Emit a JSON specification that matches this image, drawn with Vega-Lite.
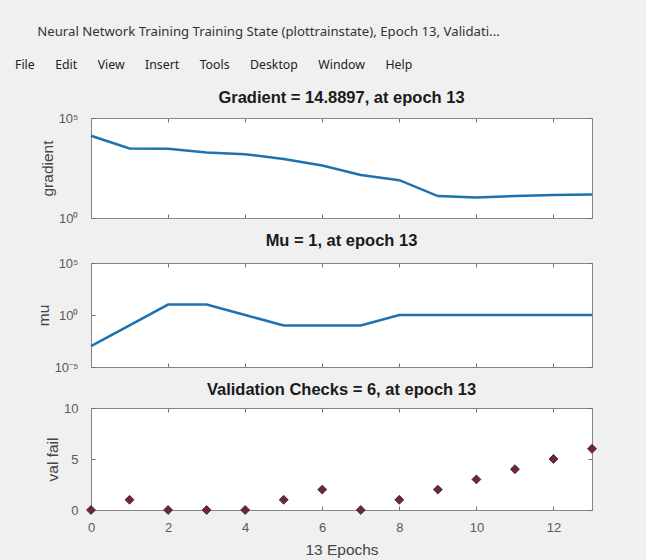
{
  "$schema": "https://vega.github.io/schema/vega-lite/v6.json",
  "background": "#f0f0f0",
  "padding": {"left": 15, "top": 24, "right": 47, "bottom": 4},
  "title": {
    "text": "\u2800\u2800\u2009Neural Network Training Training State (plottrainstate), Epoch 13, Validati...",
    "subtitle": "File\u2003\u2002\u2009Edit\u2003\u2002\u2009View\u2003\u2002\u2009Insert\u2003\u2002\u2009Tools\u2003\u2002\u2009Desktop\u2003\u2002\u2009Window\u2003\u2002\u2009Help",
    "anchor": "start",
    "frame": "group",
    "font": "Noto Sans",
    "fontSize": 13.2,
    "fontWeight": "normal",
    "color": "#333333",
    "subtitleFont": "Noto Sans",
    "subtitleFontSize": 12.3,
    "subtitleColor": "#222222",
    "subtitlePadding": 20,
    "offset": 17,
    "dx": -76
  },
  "datasets": {
    "train": [
      {"epoch": 0, "gradient": 12900, "mu": 0.001, "val_fail": 0},
      {"epoch": 1, "gradient": 3000, "mu": 0.1, "val_fail": 1},
      {"epoch": 2, "gradient": 2900, "mu": 10, "val_fail": 0},
      {"epoch": 3, "gradient": 1900, "mu": 10, "val_fail": 0},
      {"epoch": 4, "gradient": 1550, "mu": 1, "val_fail": 0},
      {"epoch": 5, "gradient": 890, "mu": 0.1, "val_fail": 1},
      {"epoch": 6, "gradient": 420, "mu": 0.1, "val_fail": 2},
      {"epoch": 7, "gradient": 140, "mu": 0.1, "val_fail": 0},
      {"epoch": 8, "gradient": 78, "mu": 1, "val_fail": 1},
      {"epoch": 9, "gradient": 12.5, "mu": 1, "val_fail": 2},
      {"epoch": 10, "gradient": 10.5, "mu": 1, "val_fail": 3},
      {"epoch": 11, "gradient": 12.5, "mu": 1, "val_fail": 4},
      {"epoch": 12, "gradient": 14, "mu": 1, "val_fail": 5},
      {"epoch": 13, "gradient": 14.8897, "mu": 1, "val_fail": 6}
    ]
  },
  "spacing": 6,
  "vconcat": [
    {
      "width": 501,
      "height": 100,
      "title": {"text": "Gradient = 14.8897, at epoch 13", "offset": 6},
      "data": {"name": "train"},
      "layer": [
        {
          "mark": {"type": "line", "color": "#1f72b0", "strokeWidth": 2.5},
          "encoding": {
            "x": {"field": "epoch", "type": "quantitative", "scale": {"domain": [0, 13], "nice": false, "zero": false},
                  "axis": {"labels": false, "title": null, "values": [0, 2, 4, 6, 8, 10, 12]}},
            "y": {"field": "gradient", "type": "quantitative", "scale": {"type": "log", "domain": [1, 100000], "nice": false},
                  "axis": {"title": "gradient", "values": [1, 100000], "labelExpr": "datum.value == 1 ? '10⁰' : '10⁵'"}}
          }
        },
        {
          "mark": {"type": "point", "opacity": 0},
          "encoding": {
            "x": {"field": "epoch", "type": "quantitative", "axis": {"orient": "top", "labels": false, "title": null, "values": [0, 2, 4, 6, 8, 10, 12]}},
            "y": {"field": "gradient", "type": "quantitative", "axis": {"orient": "right", "labels": false, "title": null, "values": [1, 100000]}}
          }
        }
      ],
      "resolve": {"axis": {"x": "independent", "y": "independent"}}
    },
    {
      "width": 501,
      "height": 104,
      "title": {"text": "Mu = 1, at epoch 13", "offset": 8},
      "data": {"name": "train"},
      "layer": [
        {
          "mark": {"type": "line", "color": "#1f72b0", "strokeWidth": 2.5},
          "encoding": {
            "x": {"field": "epoch", "type": "quantitative", "scale": {"domain": [0, 13], "nice": false, "zero": false},
                  "axis": {"labels": false, "title": null, "values": [0, 2, 4, 6, 8, 10, 12]}},
            "y": {"field": "mu", "type": "quantitative", "scale": {"type": "log", "domain": [0.00001, 100000], "nice": false},
                  "axis": {"title": "mu", "values": [0.00001, 1, 100000], "labelExpr": "datum.value < 0.5 ? '10⁻⁵' : (datum.value < 2 ? '10⁰' : '10⁵')"}}
          }
        },
        {
          "mark": {"type": "point", "opacity": 0},
          "encoding": {
            "x": {"field": "epoch", "type": "quantitative", "axis": {"orient": "top", "labels": false, "title": null, "values": [0, 2, 4, 6, 8, 10, 12]}},
            "y": {"field": "mu", "type": "quantitative", "axis": {"orient": "right", "labels": false, "title": null, "values": [0.00001, 1, 100000]}}
          }
        }
      ],
      "resolve": {"axis": {"x": "independent", "y": "independent"}}
    },
    {
      "width": 501,
      "height": 102,
      "title": {"text": "Validation Checks = 6, at epoch 13", "offset": 4},
      "data": {"name": "train"},
      "layer": [
        {
          "mark": {"type": "point", "shape": "diamond", "filled": true, "color": "#70263a", "size": 80, "opacity": 1, "stroke": "#3a1a22", "strokeWidth": 0.8},
          "encoding": {
            "x": {"field": "epoch", "type": "quantitative", "scale": {"domain": [0, 13], "nice": false, "zero": false},
                  "axis": {"title": "13 Epochs", "values": [0, 2, 4, 6, 8, 10, 12]}},
            "y": {"field": "val_fail", "type": "quantitative", "scale": {"domain": [0, 10], "nice": false},
                  "axis": {"title": "val fail", "values": [0, 5, 10]}}
          }
        },
        {
          "mark": {"type": "point", "opacity": 0},
          "encoding": {
            "x": {"field": "epoch", "type": "quantitative", "axis": {"orient": "top", "labels": false, "title": null, "values": [0, 2, 4, 6, 8, 10, 12]}},
            "y": {"field": "val_fail", "type": "quantitative", "axis": {"orient": "right", "labels": false, "title": null, "values": [0, 5, 10]}}
          }
        }
      ],
      "resolve": {"axis": {"x": "independent", "y": "independent"}}
    }
  ],
  "config": {
    "font": "Liberation Sans",
    "view": {"fill": "#ffffff", "stroke": "#868686", "strokeWidth": 1},
    "title": {"font": "Liberation Sans", "fontSize": 16.5, "fontWeight": "bold", "color": "#1a1a1a"},
    "axis": {
      "grid": false,
      "domainColor": "#868686",
      "tickColor": "#707070",
      "tickSize": -4,
      "labelPadding": 17,
      "labelFlush": false,
      "labelOverlap": false,
      "labelFont": "Liberation Sans",
      "labelFontSize": 13,
      "labelColor": "#5a5a5a",
      "titleFont": "Liberation Sans",
      "titleFontSize": 15.5,
      "titleFontWeight": "normal",
      "titleColor": "#444444"
    },
    "axisX": {"titlePadding": 8, "labelPadding": 15},
    "axisY": {"titlePadding": 3}
  }
}
